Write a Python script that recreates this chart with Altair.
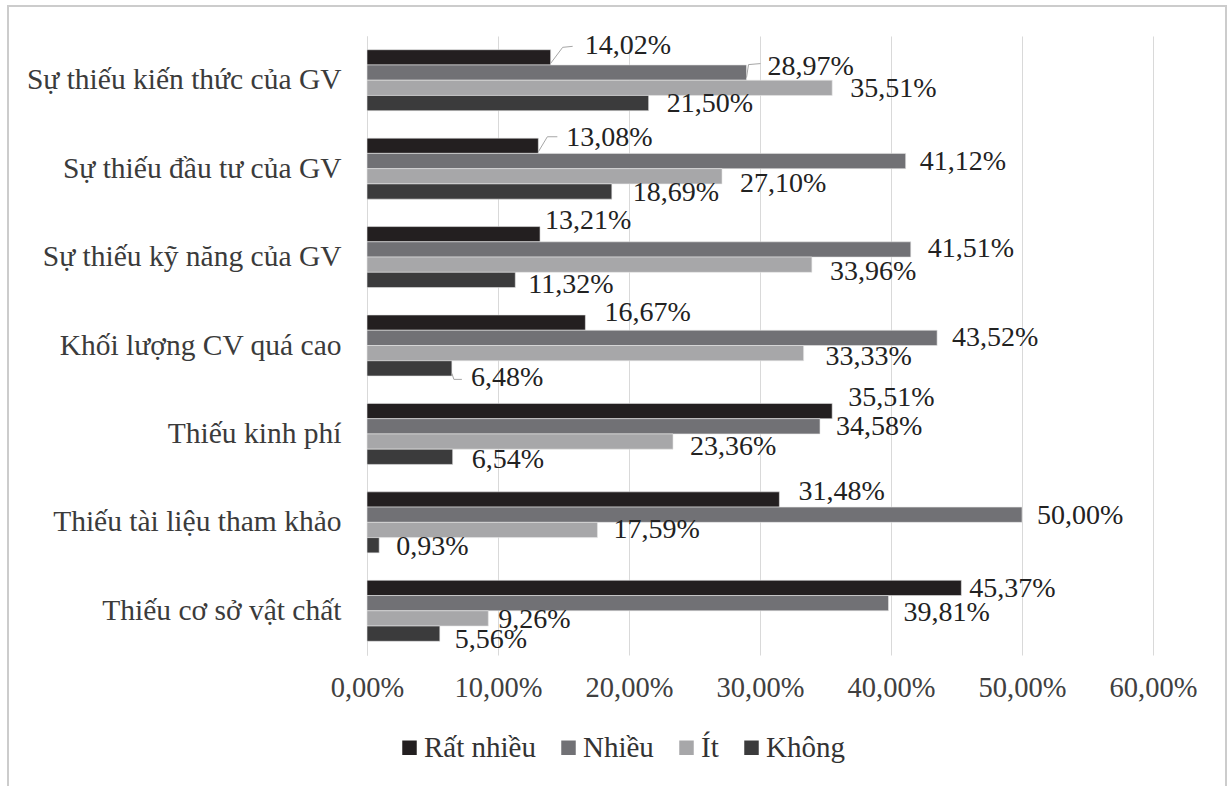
import altair as alt
import pandas as pd

# Survey results: barriers to teachers' work (share of responses, %)
categories = [
    "Sự thiếu kiến thức của GV",
    "Sự thiếu đầu tư của GV",
    "Sự thiếu kỹ năng của GV",
    "Khối lượng CV quá cao",
    "Thiếu kinh phí",
    "Thiếu tài liệu tham khảo",
    "Thiếu cơ sở vật chất",
]
series = ["Rất nhiều", "Nhiều", "Ít", "Không"]

rat_nhieu = [14.02, 13.08, 13.21, 16.67, 35.51, 31.48, 45.37]
nhieu = [28.97, 41.12, 41.51, 43.52, 34.58, 50.00, 39.81]
it = [35.51, 27.10, 33.96, 33.33, 23.36, 17.59, 9.26]
khong = [21.50, 18.69, 11.32, 6.48, 6.54, 0.93, 5.56]

x_ticks = [0, 10, 20, 30, 40, 50, 60]
colors = ["#231f20", "#717175", "#a7a7a9", "#3b3b3c"]

# Hand-placed label nudges (pixels): horizontal gap after the bar end,
# vertical shift from the bar's centre
nudge_x = [
    [34, 28, 5, 19, 16, 19, 8],
    [21, 14, 17, 15, 16, 15, 15],
    [18, 18, 18, 22, 17, 16, 10],
    [18, 21, 13, 19, 19, 17, 15],
]
nudge_y = [
    [-11, -8, -13, -10, -13, -7, 1],
    [-6, 1, 0, 0, 1, 1, 10],
    [1, 8, 7, 4, 5, 0, 1.5],
    [1, 1, 5, 10, 3, 2, 6],
]

# Leader lines for labels pulled away from their bars:
# (series index, category index, [(px right of bar end, px below bar centre), ...])
leaders = [
    (0, 0, [(0, 6), (12, -10), (22, -11)]),
    (1, 0, [(0, 5), (2, -8), (14, -9)]),
    (0, 1, [(0, 6), (9, -9), (19, -9)]),
    (3, 3, [(0, 5), (2, 11), (10, 11)]),
]

PLOT_W, PLOT_H = 786, 619
LEFT, TOP = 367, 36
FONT = "Liberation Serif"

values = [rat_nhieu, nhieu, it, khong]
rows = []
for s_i, (name, vals) in enumerate(zip(series, values)):
    for c_i, (cat, v) in enumerate(zip(categories, vals)):
        rows.append({
            "cat": cat,
            "series": name,
            "idx": s_i,
            "value": v,
            "label": f"{v:.2f}".replace(".", ",") + "%",
            "ndx": nudge_x[s_i][c_i],
            "ndy": nudge_y[s_i][c_i],
        })
df = pd.DataFrame(rows)

lead_rows = []
for k, (s_i, c_i, pts) in enumerate(leaders):
    for order, (px, py) in enumerate(pts):
        lead_rows.append({
            "lead": k,
            "order": order,
            "cat": categories[c_i],
            "idx": s_i,
            "value": values[s_i][c_i],
            "ndx": px,
            "ndy": py,
        })
lead_df = pd.DataFrame(lead_rows)

x_scale = alt.Scale(domain=[0, 60], nice=False)
y_scale = alt.Scale(paddingInner=0.31, paddingOuter=0.155)
band_px = PLOT_H / 7 * (1 - 0.31)
px_per_unit = PLOT_W / 60
off_scale = alt.Scale(domain=[0, 4], nice=False, zero=False)

bars = alt.Chart(df).mark_bar(stroke="#e6e6e6", strokeWidth=0.6).encode(
    x=alt.X(
        "value:Q",
        scale=x_scale,
        axis=alt.Axis(
            values=x_ticks,
            title=None,
            grid=True,
            gridColor="#d9d9d9",
            gridWidth=1,
            domain=False,
            ticks=False,
            labelFlush=False,
            labelFont=FONT,
            labelFontSize=28.5,
            labelColor="#404040",
            labelPadding=18,
            labelExpr="replace(format(datum.value, '.2f'), '.', ',') + '%'",
        ),
    ),
    y=alt.Y(
        "cat:N",
        sort=categories,
        scale=y_scale,
        axis=alt.Axis(
            title=None,
            ticks=False,
            domain=True,
            domainColor="#d9d9d9",
            domainWidth=1,
            labelFont=FONT,
            labelFontSize=29.5,
            labelColor="#3b3b3b",
            labelPadding=26,
            labelLimit=500,
        ),
    ),
    yOffset=alt.YOffset("series:N", sort=series, scale=alt.Scale(paddingInner=0, paddingOuter=0)),
    color=alt.Color(
        "series:N",
        sort=series,
        scale=alt.Scale(domain=series, range=colors),
        legend=alt.Legend(
            title=None,
            orient="none",
            direction="horizontal",
            legendX=28,
            legendY=697,
            symbolType="square",
            symbolSize=210,
            symbolStrokeWidth=0,
            labelFont=FONT,
            labelFontSize=29,
            labelColor="#333333",
            labelOffset=0,
            columnPadding=18,
        ),
    ),
)

leader_lines = alt.Chart(lead_df).transform_calculate(
    lx=f"datum.value + datum.ndx / {px_per_unit}",
    ly=f"datum.idx + 0.5 + datum.ndy / {band_px / 4}",
).mark_line(color="#a6a6a6", strokeWidth=1).encode(
    x=alt.X("lx:Q", scale=x_scale),
    y=alt.Y("cat:N", sort=categories, scale=y_scale),
    yOffset=alt.YOffset("ly:Q", scale=off_scale),
    detail="lead:N",
    order="order:Q",
)

labels = alt.Chart(df).transform_calculate(
    lx=f"datum.value + datum.ndx / {px_per_unit}",
    ly=f"datum.idx + 0.5 + datum.ndy / {band_px / 4}",
).mark_text(
    align="left", baseline="middle", font=FONT, fontSize=28, color="#222222"
).encode(
    x=alt.X("lx:Q", scale=x_scale),
    y=alt.Y("cat:N", sort=categories, scale=y_scale),
    yOffset=alt.YOffset("ly:Q", scale=off_scale),
    text="label:N",
)

# Light frame around the whole figure
frame = alt.Chart(pd.DataFrame({"k": [0]})).mark_rect(
    filled=False, stroke="#cccccc", strokeWidth=2
).encode(
    x=alt.value(8 - LEFT),
    x2=alt.value(1226 - LEFT),
    y=alt.value(6 - TOP),
    y2=alt.value(900),
)

chart = alt.layer(frame, bars, leader_lines, labels).resolve_scale(
    yOffset="independent"
).properties(
    width=PLOT_W,
    height=PLOT_H,
    autosize=alt.AutoSizeParams(type="none"),
    padding={"left": LEFT, "top": TOP, "right": 1230 - LEFT - PLOT_W, "bottom": 786 - TOP - PLOT_H},
    background="white",
).configure_view(stroke=None)

chart.save("out.html", embed_options={"renderer": "svg", "actions": False})
